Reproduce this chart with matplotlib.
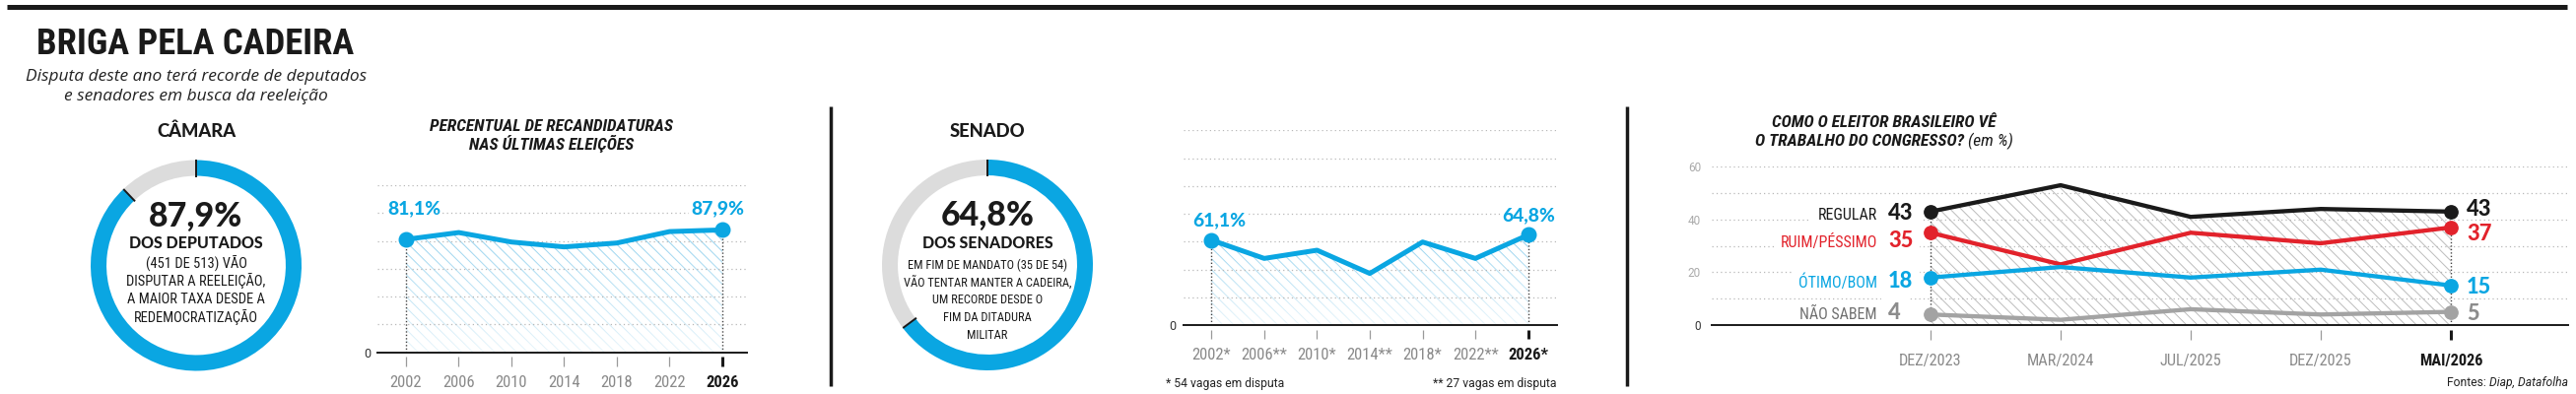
import matplotlib
matplotlib.use('Agg')
import matplotlib.pyplot as plt
import numpy as np
from matplotlib import font_manager as fm
from matplotlib.lines import Line2D
from matplotlib.textpath import TextPath

# ---- dados ----
camara_anos = ['2002', '2006', '2010', '2014', '2018', '2022', '2026']
camara_pct = [81.1, 86.0, 79.2, 75.7, 78.5, 86.7, 87.9]
camara_total = 87.9
camara_texto = ['(451 DE 513) VÃO', 'DISPUTAR A REELEIÇÃO,', 'A MAIOR TAXA DESDE A',
                'REDEMOCRATIZAÇÃO']

senado_anos = ['2002*', '2006**', '2010*', '2014**', '2018*', '2022**', '2026*']
senado_pct = [61.1, 47.9, 53.8, 37.1, 59.7, 47.9, 64.8]
senado_total = 64.8
senado_texto = ['EM FIM DE MANDATO (35 DE 54)', 'VÃO TENTAR MANTER A CADEIRA,',
                'UM RECORDE DESDE O', 'FIM DA DITADURA', 'MILITAR']

datas = ['DEZ/2023', 'MAR/2024', 'JUL/2025', 'DEZ/2025', 'MAI/2026']
regular = [43, 53, 41, 44, 43]
ruim_pessimo = [35, 23, 35, 31, 37]
otimo_bom = [18, 22, 18, 21, 15]
nao_sabem = [4, 2, 6, 4, 5]

# ---- cores ----
AZUL = '#0aa6e2'
VERMELHO = '#e2222b'
PRETO = '#1a1a1a'
CINZA = '#a3a3a3'
ANEL = '#dcdcdc'
GRADE = '#b8b8b8'
PT = 0.72  # pontos por pixel (dpi 100)

# ---- fontes: procura uma face condensada e uma bem pesada ----
fontes = fm.fontManager.ttflist


def peso(f):
    w = f.weight
    if isinstance(w, str):
        w = fm.weight_dict.get(w, 400)
    return int(w)


condensadas = [f.name for f in fontes if f.stretch == 'condensed']
COND = dict(fontfamily=['Roboto', 'Liberation Sans', 'DejaVu Sans'])
for nome in ['Liberation Sans Narrow', 'Roboto Condensed', 'Noto Sans', 'DejaVu Sans',
             'Open Sans'] + condensadas:
    if nome in condensadas:
        COND = dict(fontfamily=[nome, 'DejaVu Sans'], fontstretch='condensed')
        break

FORTE = dict(fontfamily=['DejaVu Sans'], fontweight='bold')
for nome in ['Lato', 'Roboto', 'Noto Sans', 'Inter', 'Open Sans']:
    if any(f.name == nome and peso(f) >= 850 and f.style == 'normal'
           and f.stretch == 'normal' for f in fontes):
        FORTE = dict(fontfamily=[nome, 'DejaVu Sans'], fontweight=900)
        break

SANS = ['Roboto', 'DejaVu Sans']
ITAL = ['Open Sans', 'DejaVu Sans']
plt.rcParams['font.family'] = SANS
plt.rcParams['hatch.linewidth'] = 0.7

W, H = 2614, 400
fig = plt.figure(figsize=(W / 100, H / 100), dpi=100)
fig.patch.set_facecolor('white')
RENDER = fig.canvas.get_renderer()


def tam(s, largura, altura=None, **kw):
    # tamanho que dá a largura medida na referência; com altura, meio-termo
    t = fig.text(0, 0, s, fontsize=10, **kw)
    w = t.get_window_extent(RENDER).width
    t.remove()
    tw = 10 * largura / w
    if altura is None:
        return tw
    fp = fm.FontProperties(family=kw.get('fontfamily', SANS),
                           weight=kw.get('fontweight', 'normal'),
                           style=kw.get('style', 'normal'),
                           stretch=kw.get('fontstretch', 'normal'), size=10)
    cap = TextPath((0, 0), 'H', size=10, prop=fp).get_extents().height * 100 / 72
    th = 10 * altura / cap
    return (tw * th) ** 0.5


def txt(x, y, s, **kw):
    kw.setdefault('va', 'baseline')
    kw.setdefault('ha', 'center')
    return fig.text(x / W, 1 - y / H, s, **kw)


def linha_fig(x0, y0, x1, y1, lw):
    fig.add_artist(Line2D([x0 / W, x1 / W], [1 - y0 / H, 1 - y1 / H], color=PRETO,
                          lw=lw, solid_capstyle='butt'))


def misto(x, y, partes, alinhar='center'):
    objs = [txt(0, y, s, ha='left', **kw) for s, kw in partes]
    larg = [o.get_window_extent(RENDER).width for o in objs]
    cur = x - sum(larg) / 2 if alinhar == 'center' else x - sum(larg)
    for o, w in zip(objs, larg):
        o.set_x(cur / W)
        cur += w


CAB = dict(COND, fontweight='bold', style='italic')

# tamanhos ajustados pelo que se mede na referência
T_TITULO = tam('BRIGA PELA CADEIRA', 277, 30, **dict(COND, fontweight=900))
T_SUB = tam('Disputa deste ano terá recorde de deputados', 345, fontfamily=ITAL,
            style='italic')
T_CASA = tam('CÂMARA', 84, 12.7, **FORTE)
T_GRANDE = tam('87,9%', 100, 23.3, **FORTE)
T_DOS = tam('DOS DEPUTADOS', 136, 11.7, **FORTE)
T_MIOLO_C = tam('DISPUTAR A REELEIÇÃO,', 124, 11.7, **COND)
T_MIOLO_S = tam('VÃO TENTAR MANTER A CADEIRA,', 170, **COND)
T_CAB = tam('PERCENTUAL DE RECANDIDATURAS', 266, 11.5, **CAB)
T_ANO = tam('2002', 30, 12.7, **COND)
T_DATA = tam('DEZ/2023', 55, 13.3, **COND)
T_SERIE = tam('REGULAR', 56, 12.3, **COND)
T_PCT = tam('81,1%', 54, 14, **FORTE)
T_NUM = tam('43', 27, 15, **FORTE)
T_NOTA = tam('* 54 vagas em disputa', 120)


def donut(cx, cy, pct, titulo, subt, linhas, t_miolo, y_pct, y_sub, y_lin, passo):
    R = 107
    ax = fig.add_axes([(cx - R - 3) / W, 1 - (cy + R + 3) / H, (2 * R + 6) / W, (2 * R + 6) / H])
    ax.pie([pct, 100 - pct], radius=1, startangle=90, counterclock=False,
           colors=[AZUL, ANEL], wedgeprops=dict(width=0.15, linewidth=0))
    for ang in (90, 90 - 3.6 * pct):
        a = np.radians(ang)
        ax.plot([0.84 * np.cos(a), 1.0 * np.cos(a)], [0.84 * np.sin(a), 1.0 * np.sin(a)],
                color=PRETO, lw=1.4, solid_capstyle='butt')
    lim = (R + 3) / R
    ax.set_xlim(-lim, lim)
    ax.set_ylim(-lim, lim)
    ax.axis('off')
    txt(cx, 139.3, titulo, fontsize=T_CASA, color=PRETO, **FORTE)
    txt(cx, y_pct, f'{pct:.1f}%'.replace('.', ','), fontsize=T_GRANDE, color=PRETO, **FORTE)
    txt(cx, y_sub, subt, fontsize=T_DOS, color=PRETO, **FORTE)
    for k, s in enumerate(linhas):
        txt(cx, y_lin + k * passo, s, fontsize=t_miolo, color=PRETO, **COND)


def painel(rect, x0, dx, ymax, grade):
    l, t, r, b = rect
    ax = fig.add_axes([l / W, 1 - b / H, (r - l) / W, (b - t) / H])
    ax.patch.set_alpha(0)
    for s in ['top', 'right', 'left']:
        ax.spines[s].set_visible(False)
    ax.spines['bottom'].set_linewidth(1.4)
    ax.spines['bottom'].set_color(PRETO)
    ax.spines['bottom'].set_zorder(7)
    ax.set_xticks([])
    ax.tick_params(axis='y', length=0)
    for g in np.arange(grade, ymax + 0.1, grade):
        ax.axhline(g, color=GRADE, lw=0.9, ls=(0, (1, 2.5)), zorder=2)
    return ax, ymax / (b - t), ((l - x0) / dx, (r - x0) / dx)


def marcas(ax, rotulos, upp, b, gap, comp, base_px, tamanho):
    n = len(rotulos)
    for i, rot in enumerate(rotulos):
        fim = i == n - 1
        ax.plot([i, i], [-gap * upp, -(gap + comp) * upp], color=PRETO if fim else '#9a9a9a',
                lw=2.2 if fim else 0.9, clip_on=False, solid_capstyle='butt')
        ax.text(i, -(base_px - b) * upp, rot, ha='center', va='baseline', fontsize=tamanho,
                color=PRETO if fim else '#8a8a8a', clip_on=False,
                **dict(COND, fontweight='bold' if fim else 'normal'))


def hachura(ax, x, y, cor, degrade):
    poly = ax.fill_between(x, y, 0, facecolor='none', edgecolor=cor, hatch='\\' * 3,
                           linewidth=0, zorder=1)
    if degrade:
        img = np.ones((100, 1, 4))
        img[:, 0, 3] = np.linspace(0, 0.8, 100)
        im = ax.imshow(img, extent=[x[0], x[-1], 0, max(y)], origin='upper', aspect='auto',
                       zorder=1.5, interpolation='bilinear')
        im.set_clip_path(poly.get_paths()[0], ax.transData)


def pontas(ax, x, y):
    for i in (0, len(y) - 1):
        ax.plot([x[i], x[i]], [0, y[i]], color='#444444', lw=1, ls=(0, (1, 1.5)), zorder=3)


def serie_pct(ax, rect, ymax, valores, anos, offs, gap, comp, base_px, zero_pad):
    l, t, r, b = rect
    x = np.arange(len(valores))
    hachura(ax, x, valores, '#8fd0ee', True)
    pontas(ax, x, valores)
    ax.plot(x, valores, color=AZUL, lw=3.6, zorder=4, solid_joinstyle='round')
    ax.plot([x[0], x[-1]], [valores[0], valores[-1]], 'o', ms=10.5, color=AZUL, zorder=5)
    for i, (ox, oy) in zip((0, len(valores) - 1), offs):
        ax.annotate(f'{valores[i]:.1f}%'.replace('.', ','), xy=(x[i], valores[i]),
                    xytext=(ox * PT, oy * PT), textcoords='offset points', ha='center',
                    va='baseline', fontsize=T_PCT, color=AZUL, zorder=6,
                    bbox=dict(facecolor='white', edgecolor='none', pad=1.5), **FORTE)
    ax.set_yticks([0], ['0'])
    ax.tick_params(axis='y', pad=zero_pad, labelsize=9, labelcolor='#333333')
    marcas(ax, anos, ymax / (b - t), b, gap, comp, base_px, T_ANO)


# ---- cabeçalho ----
linha_fig(7, 6.5, 2605, 6.5, 3.6)
txt(198.5, 55, 'BRIGA PELA CADEIRA', fontsize=T_TITULO, color=PRETO,
    **dict(COND, fontweight=900))
txt(199, 81.7, 'Disputa deste ano terá recorde de deputados', fontfamily=ITAL,
    style='italic', fontsize=T_SUB, color='#222222')
txt(199, 101.7, 'e senadores em busca da reeleição', fontfamily=ITAL, style='italic',
    fontsize=T_SUB, color='#222222')
linha_fig(843, 108, 843, 392, 2.5)
linha_fig(1651, 108, 1651, 392, 2.5)

# ---- câmara ----
donut(199, 269.5, camara_total, 'CÂMARA', 'DOS DEPUTADOS', camara_texto, T_MIOLO_C,
      230, 251.7, 272, 18.2)
txt(560, 132.7, 'PERCENTUAL DE RECANDIDATURAS', fontsize=T_CAB, color=PRETO, **CAB)
txt(560, 151.7, 'NAS ÚLTIMAS ELEIÇÕES', fontsize=T_CAB, color=PRETO, **CAB)
rc = (383, 188, 758, 357.7)
ax1, upp1, xl1 = painel(rc, 412, 53.5, 120, 20)
serie_pct(ax1, rc, 120, camara_pct, camara_anos, [(8, 25.7), (-5, 16.1)], 4, 10, 392.7, 5)
ax1.set_xlim(*xl1)
ax1.set_ylim(0, 120)

# ---- senado ----
donut(1002, 269, senado_total, 'SENADO', 'DOS SENADORES', senado_texto, T_MIOLO_S,
      229.3, 251.7, 272.7, 17.9)
rs = (1200.7, 132.3, 1580, 330)
ax2, upp2, xl2 = painel(rs, 1229.3, 53.57, 140, 20)
serie_pct(ax2, rs, 140, senado_pct, senado_anos, [(7.7, 14.7), (0, 14.5)], 5, 8.5, 365, 5)
ax2.set_xlim(*xl2)
ax2.set_ylim(0, 140)
txt(1182.7, 392.7, '* 54 vagas em disputa', ha='left', fontsize=T_NOTA, color='#222222')
txt(1580, 392.7, '** 27 vagas em disputa', ha='right', fontsize=T_NOTA, color='#222222')

# ---- congresso ----
misto(1912, 129.3, [('COMO O ELEITOR BRASILEIRO VÊ', dict(fontsize=T_CAB, color=PRETO, **CAB))])
misto(1912, 148.3, [('O TRABALHO DO CONGRESSO?', dict(fontsize=T_CAB, color=PRETO, **CAB)),
                    (' (em %)', dict(fontsize=T_CAB, color=PRETO, style='italic', **COND))])
rg = (1737, 169.3, 2606, 330)
ax3, upp3, xl3 = painel(rg, 1959, 132, 60, 10)
x = np.arange(len(datas))
hachura(ax3, x, regular, '#bdbdbd', False)
pontas(ax3, x, regular)
series = [
    ('REGULAR', regular, PRETO, PRETO, PRETO, -8.5, -4.5),
    ('RUIM/PÉSSIMO', ruim_pessimo, VERMELHO, VERMELHO, VERMELHO, -14.4, -13.1),
    ('ÓTIMO/BOM', otimo_bom, AZUL, AZUL, AZUL, -9.9, -8.5),
    ('NÃO SABEM', nao_sabem, CINZA, '#707070', '#8c8c8c', -4.7, -8.4),
]
box = dict(facecolor='white', edgecolor='none', pad=5)
for nome, vals, cl, cn, cv, dy, dy2 in series:
    ax3.plot(x, vals, color=cl, lw=3.1, zorder=4, solid_joinstyle='miter')
    ax3.plot([x[0], x[-1]], [vals[0], vals[-1]], 'o', ms=9.6, color=cl, zorder=5)
    ax3.annotate(nome, xy=(x[0], vals[0]), xytext=(-54 * PT, dy * PT),
                 textcoords='offset points', ha='right', va='baseline', fontsize=T_SERIE,
                 color=cn, zorder=3.5, bbox=box, **COND)
    ax3.annotate(str(vals[0]), xy=(x[0], vals[0]), xytext=(-43 * PT, dy * PT),
                 textcoords='offset points', ha='left', va='baseline', fontsize=T_NUM,
                 color=cv, zorder=3.6, bbox=box, **FORTE)
    ax3.annotate(str(vals[-1]), xy=(x[-1], vals[-1]), xytext=(16 * PT, dy2 * PT),
                 textcoords='offset points', ha='left', va='baseline', fontsize=T_NUM,
                 color=cv, zorder=6, **FORTE)
ax3.set_yticks([0, 20, 40, 60], ['0', '20', '40', '60'])
ax3.tick_params(axis='y', pad=8, labelsize=8.5)
for lab in ax3.get_yticklabels():
    lab.set_color('#333333' if lab.get_text() == '0' else '#aaaaaa')
marcas(ax3, datas, upp3, 330, 5, 10, 370.7, T_DATA)
ax3.set_xlim(*xl3)
ax3.set_ylim(0, 60)

misto(2606, 392, [('Fontes: ', dict(fontsize=T_NOTA, color='#222222')),
                  ('Diap, Datafolha', dict(fontsize=T_NOTA, style='italic', color='#222222'))],
      alinhar='right')

fig.savefig('out.png', dpi=100, facecolor='white')
